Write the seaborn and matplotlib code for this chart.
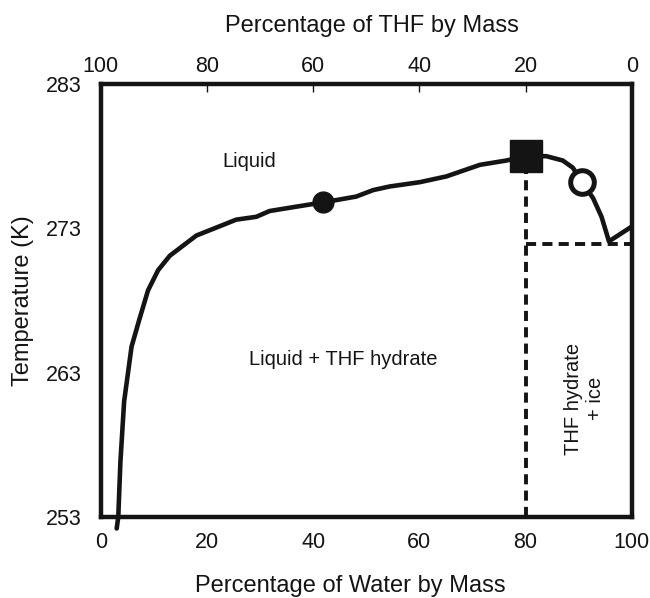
import numpy as np
import pandas as pd
import matplotlib
matplotlib.use("Agg")
import matplotlib.pyplot as plt
import seaborn as sns

# liquidus curve (water %, temperature K)
water_pct = [3.0, 3.3, 3.7, 4.4, 5.8, 7.2, 8.9, 10.8, 13.0, 18.0, 25.5, 29.3, 31.8,
             36.8, 41.9, 48.1, 51.3, 54.4, 60.1, 65.1, 71.4, 76.4, 80.0, 83.9, 87.0,
             88.9, 90.6, 92.7, 94.3, 95.7, 99.9]
temp_k = [252.2, 253.0, 256.8, 261.0, 264.8, 266.6, 268.7, 270.1, 271.1, 272.5, 273.6,
          273.8, 274.2, 274.5, 274.8, 275.2, 275.65, 275.9, 276.2, 276.6, 277.4, 277.7,
          278.0, 278.0, 277.7, 277.2, 276.2, 275.1, 273.8, 272.1, 273.1]

# marked points
dot_pt = (41.9, 274.8)
square_pt = (80.0, 278.0)
ring_pt = (90.6, 276.2)

# dashed phase boundaries
eutectic_t = 271.9
hydrate_x = 80.0

x_ticks = [0, 20, 40, 60, 80, 100]
y_ticks = [253, 263, 273, 283]

sns.set_style("white")
plt.rcParams['font.family'] = ['Liberation Sans', 'DejaVu Sans']
ink = "#141414"

fig = plt.figure(figsize=(6.5, 5.98), dpi=100)
ax = fig.add_axes([0.155, 0.1355, 0.817, 0.724])

df = pd.DataFrame({"water": water_pct, "T": temp_k})
sns.lineplot(data=df, x="water", y="T", sort=False, color=ink, linewidth=3.3, ax=ax)
for l in ax.lines:
    l.set_clip_on(False)

ax.plot([hydrate_x, hydrate_x], [253, square_pt[1]], color=ink, lw=2.8,
        linestyle=(0, (2.6, 1.6)))
ax.plot([hydrate_x, 100], [eutectic_t, eutectic_t], color=ink, lw=2.8,
        linestyle=(0, (2.6, 1.6)))

ax.plot(*dot_pt, marker="o", markersize=15, color=ink, zorder=5)
ax.plot(*square_pt, marker="s", markersize=23, color=ink, zorder=5)
ax.plot(*ring_pt, marker="o", markersize=17, markerfacecolor="white",
        markeredgecolor=ink, markeredgewidth=3.6, zorder=5)

ax.text(27.9, 277.6, "Liquid", fontsize=14.5, ha="center", va="center", color=ink)
ax.text(45.6, 263.9, "Liquid + THF hydrate", fontsize=14.5, ha="center",
        va="center", color=ink)
ax.text(91.0, 261.2, "THF hydrate\n+ ice", fontsize=14.5, ha="center", va="center",
        rotation=90, multialignment="center", color=ink)

ax.set_xlim(0, 100)
ax.set_ylim(253, 283)
ax.set_xticks(x_ticks)
ax.set_yticks(y_ticks)
ax.tick_params(axis="x", direction="in", length=6, width=1, colors=ink,
               labelsize=15.5, pad=11)
ax.tick_params(axis="y", direction="in", length=6, width=1, colors=ink,
               labelsize=15.5, pad=14)

ax.set_xlabel("Percentage of Water by Mass", fontsize=17, labelpad=15, color=ink)
ax.xaxis.set_label_coords(0.47, -0.135)
ax.set_ylabel("Temperature (K)", fontsize=17, labelpad=8, color=ink)

top = ax.secondary_xaxis("top", functions=(lambda v: 100 - v, lambda v: 100 - v))
top.set_xticks([100 - t for t in x_ticks])
top.tick_params(direction="in", length=6, width=1, colors=ink, labelsize=15.5, pad=5)
top.set_xlabel("Percentage of THF by Mass", fontsize=17, labelpad=17, color=ink)
top.xaxis.label.set_x(0.511)

for s in ax.spines.values():
    s.set_linewidth(3.2)
    s.set_color(ink)
top.spines["top"].set_visible(False)

fig.savefig("out.png", dpi=100)
